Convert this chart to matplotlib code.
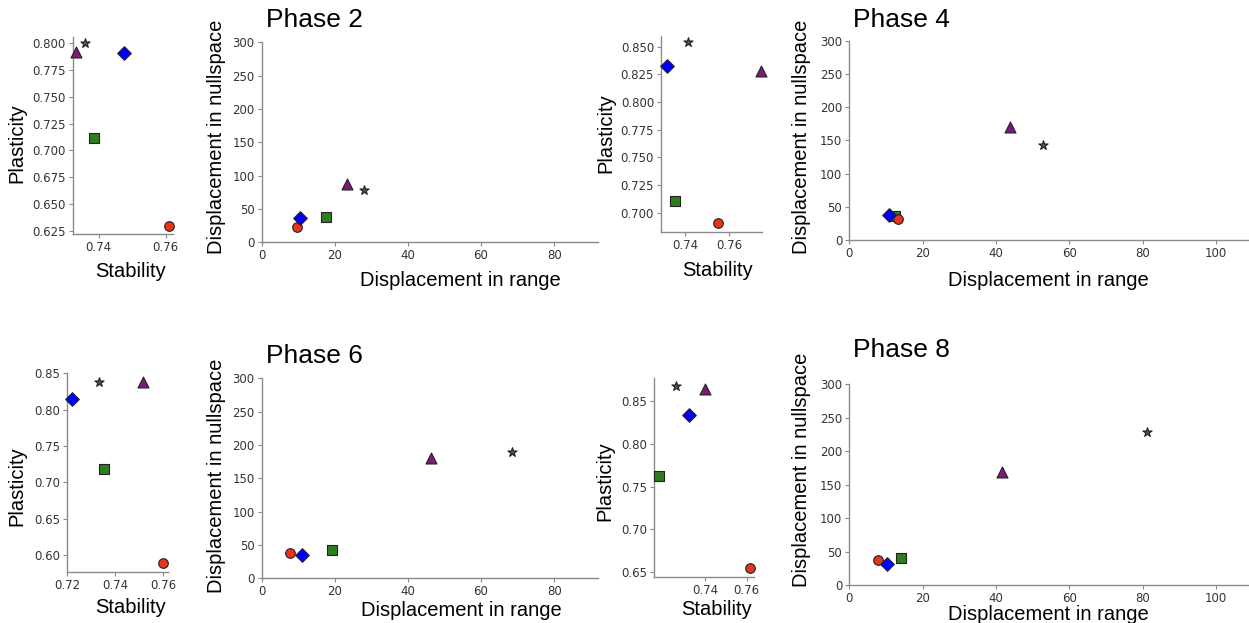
import matplotlib
matplotlib.use('Agg')
import matplotlib.pyplot as plt

# ==============================================================================
# Data, one entry per method: square, circle, diamond, triangle, star
markers = ['s', 'o', 'D', '^', '*']
colors = ['#2e7d1e', '#e8341c', '#0000ff', '#7a1a7a', '#555555']
sizes = [48, 48, 48, 62, 48]
phases = ['Phase 2', 'Phase 4', 'Phase 6', 'Phase 8']

stab_p2 = [0.7386, 0.7611, 0.7476, 0.7332, 0.7359]
plast_p2 = [0.7118, 0.6297, 0.7910, 0.7916, 0.8000]
drange_p2 = [17.6, 9.6, 10.5, 23.2, 28.0]
dnull_p2 = [38.4, 23.4, 36.0, 87.0, 78.5]

stab_p4 = [0.7354, 0.7548, 0.7317, 0.7744, 0.7412]
plast_p4 = [0.7108, 0.6904, 0.8326, 0.8281, 0.8545]
drange_p4 = [12.5, 13.2, 10.9, 43.9, 52.8]
dnull_p4 = [36.0, 32.0, 38.0, 170.0, 143.0]

stab_p6 = [0.7354, 0.7599, 0.7221, 0.7514, 0.7331]
plast_p6 = [0.7185, 0.5887, 0.8147, 0.8386, 0.8380]
drange_p6 = [19.1, 7.7, 11.0, 46.2, 68.4]
dnull_p6 = [42.5, 37.5, 34.5, 181.0, 190.0]

stab_p8 = [0.7179, 0.7617, 0.7322, 0.7398, 0.7261]
plast_p8 = [0.7627, 0.6550, 0.8333, 0.8632, 0.8671]
drange_p8 = [14.1, 7.9, 10.4, 41.6, 81.2]
dnull_p8 = [40.0, 37.5, 31.0, 168.5, 229.0]

# tick labels
stab_xticks_p2 = [0.74, 0.76]
stab_yticks_p2 = [0.625, 0.650, 0.675, 0.700, 0.725, 0.750, 0.775, 0.800]
stab_xticks_p4 = [0.74, 0.76]
stab_yticks_p4 = [0.700, 0.725, 0.750, 0.775, 0.800, 0.825, 0.850]
stab_xticks_p6 = [0.72, 0.74, 0.76]
stab_yticks_p6 = [0.60, 0.65, 0.70, 0.75, 0.80, 0.85]
stab_xticks_p8 = [0.74, 0.76]
stab_yticks_p8 = [0.65, 0.70, 0.75, 0.80, 0.85]
disp_xticks_short = [0, 20, 40, 60, 80]
disp_xticks_long = [0, 20, 40, 60, 80, 100]
disp_yticks = [0, 50, 100, 150, 200, 250, 300]

# ==============================================================================
W, H = 1249, 623
fig = plt.figure(figsize=(W / 100, H / 100), dpi=100)
label_font = 'Liberation Sans'


def fx(x):
    return x / W


def fy(y):
    return 1 - y / H


def make_axes(left, top, right, bottom):
    ax = fig.add_axes([fx(left), fy(bottom), (right - left) / W,
                       (bottom - top) / H])
    for s in ['top', 'right']:
        ax.spines[s].set_visible(False)
    for s in ['left', 'bottom']:
        ax.spines[s].set_color('#8a8a8a')
        ax.spines[s].set_linewidth(1.0)
    ax.tick_params(direction='out', length=3, width=0.8, color='#8a8a8a',
                   labelsize=8.5, labelcolor='#333333', pad=2)
    return ax


def draw(ax, xs, ys):
    for x, y, m, c, s in zip(xs, ys, markers, colors, sizes):
        ax.scatter([x], [y], marker=m, s=s, color=c, edgecolor='#222222',
                   linewidth=0.8, zorder=3, clip_on=False)


def labels(ax, xl, yl, xpos, ypos):
    ax.set_xlabel(xl, fontsize=14.5, family=label_font, va='baseline')
    ax.set_ylabel(yl, fontsize=14.5, family=label_font, va='center')
    ax.xaxis.set_label_coords(fx(xpos[0]), fy(xpos[1]),
                              transform=fig.transFigure)
    ax.yaxis.set_label_coords(fx(ypos[0]), fy(ypos[1]),
                              transform=fig.transFigure)


# ------------------------------------------------------------------------------
# Phase 2
ax = make_axes(72.7, 37, 173, 234)
draw(ax, stab_p2, plast_p2)
ax.set_xlim(0.7322, 0.7622)
ax.set_ylim(0.6219, 0.8059)
ax.set_xticks(stab_xticks_p2)
ax.set_yticks(stab_yticks_p2)
ax.set_yticklabels(['%.3f' % v for v in stab_yticks_p2])
labels(ax, 'Stability', 'Plasticity', (131, 277), (16.7, 143))

ax = make_axes(261.7, 42.3, 598, 242.3)
draw(ax, drange_p2, dnull_p2)
ax.set_xlim(0, 92)
ax.set_ylim(0, 300)
ax.set_xticks(disp_xticks_short)
ax.set_yticks(disp_yticks)
labels(ax, 'Displacement in range', 'Displacement in nullspace',
       (460, 286), (216, 137))
fig.text(fx(266), fy(27), phases[0], fontsize=19, family=label_font,
         va='baseline', ha='left')

# ------------------------------------------------------------------------------
# Phase 4
ax = make_axes(661, 36, 762.3, 232.3)
draw(ax, stab_p4, plast_p4)
ax.set_xlim(0.7292, 0.7749)
ax.set_ylim(0.6823, 0.8597)
ax.set_xticks(stab_xticks_p4)
ax.set_yticks(stab_yticks_p4)
ax.set_yticklabels(['%.3f' % v for v in stab_yticks_p4])
labels(ax, 'Stability', 'Plasticity', (717.5, 276), (606, 133))

ax = make_axes(849.3, 40.7, 1249, 240.3)
draw(ax, drange_p4, dnull_p4)
ax.set_xlim(0, 109)
ax.set_ylim(0, 300)
ax.set_xticks(disp_xticks_long)
ax.set_yticks(disp_yticks)
labels(ax, 'Displacement in range', 'Displacement in nullspace',
       (1048, 286), (802, 137))
fig.text(fx(853), fy(27), phases[1], fontsize=19, family=label_font,
         va='baseline', ha='left')

# ------------------------------------------------------------------------------
# Phase 6
ax = make_axes(67.3, 372.7, 167.7, 572.3)
draw(ax, stab_p6, plast_p6)
ax.set_xlim(0.7200, 0.7618)
ax.set_ylim(0.5766, 0.8508)
ax.set_xticks(stab_xticks_p6)
ax.set_yticks(stab_yticks_p6)
ax.set_yticklabels(['%.2f' % v for v in stab_yticks_p6])
labels(ax, 'Stability', 'Plasticity', (131, 613), (17, 486))

ax = make_axes(261.7, 378.3, 598, 578.3)
draw(ax, drange_p6, dnull_p6)
ax.set_xlim(0, 92)
ax.set_ylim(0, 300)
ax.set_xticks(disp_xticks_short)
ax.set_yticks(disp_yticks)
labels(ax, 'Displacement in range', 'Displacement in nullspace',
       (461, 616), (216, 476))
fig.text(fx(266), fy(363), phases[2], fontsize=19, family=label_font,
         va='baseline', ha='left')

# ------------------------------------------------------------------------------
# Phase 8
ax = make_axes(654.3, 377.7, 754.3, 577.3)
draw(ax, stab_p8, plast_p8)
ax.set_xlim(0.7157, 0.7637)
ax.set_ylim(0.6442, 0.8768)
ax.set_xticks(stab_xticks_p8)
ax.set_yticks(stab_yticks_p8)
ax.set_yticklabels(['%.2f' % v for v in stab_yticks_p8])
labels(ax, 'Stability', 'Plasticity', (717, 615), (605, 481))

ax = make_axes(849.3, 384.3, 1249, 585)
draw(ax, drange_p8, dnull_p8)
ax.set_xlim(0, 109)
ax.set_ylim(0, 300)
ax.set_xticks(disp_xticks_long)
ax.set_yticks(disp_yticks)
labels(ax, 'Displacement in range', 'Displacement in nullspace',
       (1048, 620), (802, 470))
fig.text(fx(853), fy(357), phases[3], fontsize=19, family=label_font,
         va='baseline', ha='left')

fig.savefig('out.png', dpi=100)
